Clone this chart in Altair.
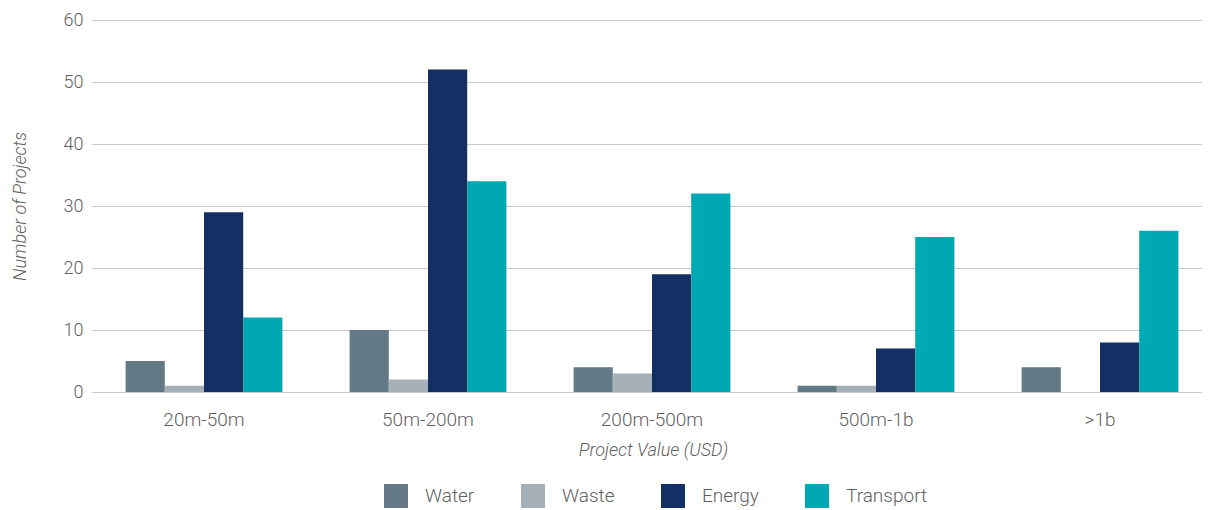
import altair as alt
import pandas as pd

categories = ["20m-50m", "50m-200m", "200m-500m", "500m-1b", ">1b"]
sectors = ["Water", "Waste", "Energy", "Transport"]
water = [5, 10, 4, 1, 4]
waste = [1, 2, 3, 1, 0]
energy = [29, 52, 19, 7, 8]
transport = [12, 34, 32, 25, 26]
y_ticks = [0, 10, 20, 30, 40, 50, 60]
colors = ["#637985", "#a6b0b9", "#133064", "#00a8b6"]

rows = []
for s, vals in zip(sectors, [water, waste, energy, transport]):
    for c, v in zip(categories, vals):
        rows.append({"Project Value": c, "Sector": s, "Count": v})
df = pd.DataFrame(rows)

FONT = "Roboto"
TXT = "#5f5f5f"

chart = alt.Chart(df).mark_bar().encode(
    x=alt.X(
        "Project Value:N",
        sort=categories,
        scale=alt.Scale(paddingInner=0.3, paddingOuter=0.15, range=[0, 1120]),
        axis=alt.Axis(
            title="Project Value (USD)",
            titleX=561,
            labelAngle=0,
            ticks=False,
            domain=False,
            labelPadding=18,
            titlePadding=12,
            labelFontSize=19,
            titleFontSize=18,
            titleFontStyle="italic",
            titleFontWeight=300,
            labelFontWeight=300,
        ),
    ),
    xOffset=alt.XOffset("Sector:N", sort=sectors),
    y=alt.Y(
        "Count:Q",
        scale=alt.Scale(domain=[0, 60]),
        axis=alt.Axis(
            title="Number of Projects",
            values=y_ticks,
            ticks=False,
            domain=False,
            grid=True,
            labelPadding=9,
            titlePadding=34,
            labelFontSize=18,
            titleFontSize=18,
            titleFontStyle="italic",
            titleFontWeight=300,
            labelFontWeight=300,
        ),
    ),
    color=alt.Color(
        "Sector:N",
        sort=sectors,
        scale=alt.Scale(domain=sectors, range=colors),
        legend=alt.Legend(
            title=None,
            orient="none",
            direction="horizontal",
            legendX=292,
            legendY=464,
            symbolType="square",
            symbolSize=576,
            symbolStrokeWidth=0,
            symbolOpacity=1,
            labelFontSize=19,
            labelFontWeight=300,
            labelOffset=17,
            columnPadding=46,
        ),
    ),
).properties(
    width=1110,
    height=372,
    autosize=alt.AutoSizeParams(type="none"),
    padding={"left": 84, "top": 12, "right": 0, "bottom": 116},
).configure(
    font=FONT,
    background="white",
).configure_view(
    stroke=None,
).configure_axis(
    labelColor=TXT,
    titleColor=TXT,
    gridColor="#c8c8c8",
    gridWidth=1,
    labelFont=FONT,
    titleFont=FONT,
).configure_legend(
    labelColor=TXT,
    labelFont=FONT,
)

chart.save("out.html", embed_options={"renderer": "svg", "actions": False})
